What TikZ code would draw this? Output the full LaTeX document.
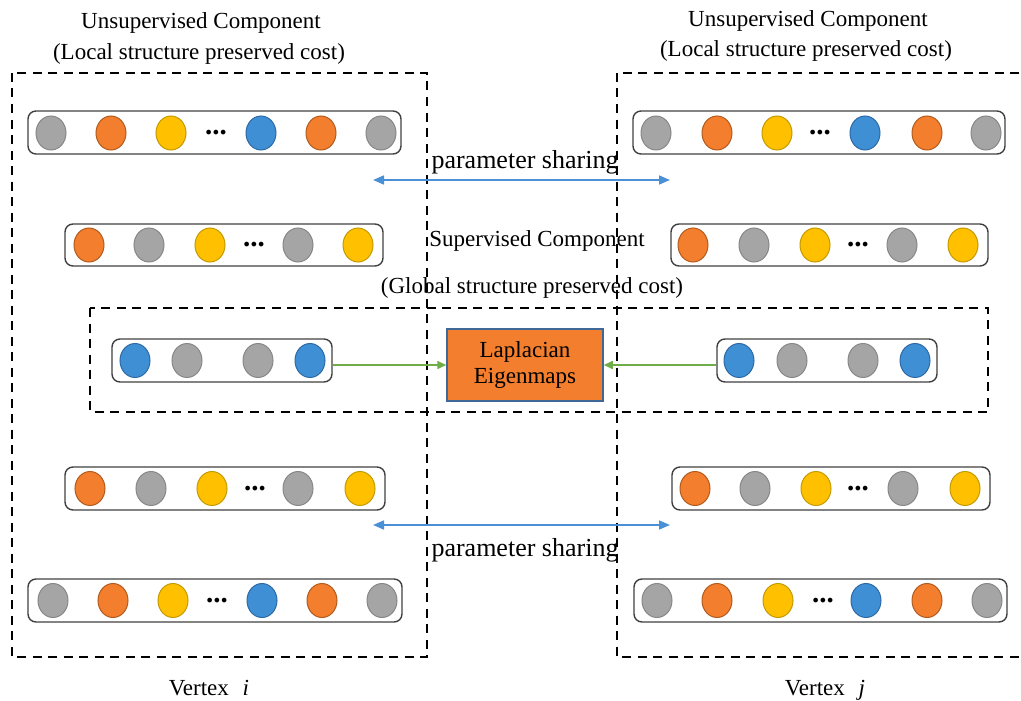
\documentclass[tikz,border=0pt]{standalone}
\usepackage{fontspec}
\setmainfont{Liberation Serif}
\usetikzlibrary{shapes.geometric,arrows.meta}

\definecolor{gfill}{HTML}{A5A5A5}\definecolor{gline}{HTML}{878787}
\definecolor{ofill}{HTML}{F37E2D}\definecolor{oline}{HTML}{B15B1F}
\definecolor{yfill}{HTML}{FFC000}\definecolor{yline}{HTML}{C39A00}
\definecolor{bfill}{HTML}{3F8FD5}\definecolor{bline}{HTML}{2D6AA5}
\definecolor{lapfill}{HTML}{F37E2D}\definecolor{lapline}{HTML}{3F6797}
\definecolor{share}{HTML}{4A90D6}
\definecolor{feed}{HTML}{6FAD46}

\tikzset{
  txt/.style={font=\fontsize{23}{27}\selectfont, inner sep=0pt, anchor=base},
  sharetxt/.style={font=\fontsize{26}{30}\selectfont, inner sep=0pt, anchor=base},
  group/.style={draw=black, line width=2.4pt, dash pattern=on 9pt off 6.5pt},
  rowbox/.style={draw=black!75, line width=1.4pt, rounded corners=8pt, inner sep=0pt},
  ball/.style={ellipse, minimum width=30pt, minimum height=34pt, inner sep=0pt, line width=1pt},
  gball/.style={ball, fill=gfill, draw=gline},
  oball/.style={ball, fill=ofill, draw=oline},
  yball/.style={ball, fill=yfill, draw=yline},
  bball/.style={ball, fill=bfill, draw=bline},
  ellip/.style={font=\fontsize{29}{30}\selectfont\bfseries, inner sep=0pt},
  sharearrow/.style={draw=share, line width=1.6pt, {Triangle[length=11pt,width=9pt]}-{Triangle[length=11pt,width=9pt]}},
  feedarrow/.style={draw=feed, line width=1.6pt, -{Triangle[length=9pt,width=8pt]}},
  lapbox/.style={draw=lapline, fill=lapfill, line width=1.5pt, inner sep=0pt,
    minimum width=156pt, minimum height=72pt, align=center,
    font=\fontsize{23}{26}\selectfont}
}

% a row of embedding units: name, y, list of x/style
\newcommand\ballrow[3]{%
  \foreach \bx/\bs [count=\k] in {#3} {\node[\bs] (#1-\k) at (\bx,#2) {};}%
}

\begin{document}
\begin{tikzpicture}[x=1pt,y=-1pt]
\useasboundingbox (0,0) rectangle (1021,701);
\clip (0,0) rectangle (1021,701);

% outer groups
\draw[group] (12,73) rectangle (427,657);
\draw[group] (617,73) rectangle (1040,657);
\draw[group] (90,308) rectangle (988,412);

% titles
\node[txt] (tl1) at (201,29) {Unsupervised Component};
\node[txt] (tl2) at (199,60) {(Local structure preserved cost)};
\node[txt] (tr1) at (808,27) {Unsupervised Component};
\node[txt] (tr2) at (806,57) {(Local structure preserved cost)};
\node[txt] (sup1) at (537,246) {Supervised Component};
\node[txt] (sup2) at (532,293) {(Global structure preserved cost)};
\node[sharetxt] (ps1) at (525,168) {parameter sharing};
\node[sharetxt] (ps2) at (525,556) {parameter sharing};
\node[txt] (vi) at (209,695) {Vertex\hspace{0.6em}\textit{i}};
\node[txt] (vj) at (825,695) {Vertex\hspace{0.6em}\textit{j}};

% row 1
\node[rowbox, minimum width=373pt, minimum height=43pt] (L1) at (214.5,132.5) {};
\ballrow{L1}{133}{51/gball,111/oball,171/yball,261/bball,321/oball,381/gball}
\node[ellip] (L1d) at (216,133) {...};
\node[rowbox, minimum width=372pt, minimum height=43pt] (R1) at (819,132.5) {};
\ballrow{R1}{133}{656/gball,717/oball,777/yball,865/bball,927/oball,986/gball}
\node[ellip] (R1d) at (820,133) {...};

% row 2
\node[rowbox, minimum width=318pt, minimum height=42pt] (L2) at (224,245) {};
\ballrow{L2}{245}{89/oball,149/gball,210/yball,298/gball,358/yball}
\node[ellip] (L2d) at (254,245) {...};
\node[rowbox, minimum width=317pt, minimum height=42pt] (R2) at (829.5,245) {};
\ballrow{R2}{245}{693/oball,754/gball,815/yball,902/gball,963/yball}
\node[ellip] (R2d) at (858,245) {...};

% row 3 (supervised part)
\node[rowbox, minimum width=220pt, minimum height=43pt] (L3) at (222,360.5) {};
\ballrow{L3}{360.5}{135/bball,187/gball,258/gball,310/bball}
\node[rowbox, minimum width=220pt, minimum height=43pt] (R3) at (827,360.5) {};
\ballrow{R3}{360.5}{739/bball,792/gball,863/gball,915/bball}
\node[lapbox] (lap) at (525,365) {Laplacian\\Eigenmaps};

% row 4
\node[rowbox, minimum width=320pt, minimum height=43pt] (L4) at (225,488.5) {};
\ballrow{L4}{488.5}{90/oball,151/gball,212/yball,298/gball,360/yball}
\node[ellip] (L4d) at (255,488.5) {...};
\node[rowbox, minimum width=318pt, minimum height=43pt] (R4) at (831,488.5) {};
\ballrow{R4}{488.5}{695/oball,755/gball,816/yball,903/gball,965/yball}
\node[ellip] (R4d) at (858,488.5) {...};

% row 5
\node[rowbox, minimum width=374pt, minimum height=43pt] (L5) at (215,600.5) {};
\ballrow{L5}{600.5}{53/gball,113/oball,173/yball,262/bball,322/oball,382/gball}
\node[ellip] (L5d) at (217,600.5) {...};
\node[rowbox, minimum width=373pt, minimum height=43pt] (R5) at (820.5,600.5) {};
\ballrow{R5}{600.5}{657/gball,717/oball,778/yball,866/bball,927/oball,987/gball}
\node[ellip] (R5d) at (823,600.5) {...};

% connectors
\coordinate (sa1) at (373,180); \coordinate (sb1) at (670,180);
\coordinate (sa2) at (373,525); \coordinate (sb2) at (670,525);
\draw[sharearrow] (sa1) -- (sb1);
\draw[sharearrow] (sa2) -- (sb2);
\draw[feedarrow] (L3.east |- lap.west) -- (lap.west);
\draw[feedarrow] (R3.west |- lap.east) -- (lap.east);
\end{tikzpicture}
\end{document}
